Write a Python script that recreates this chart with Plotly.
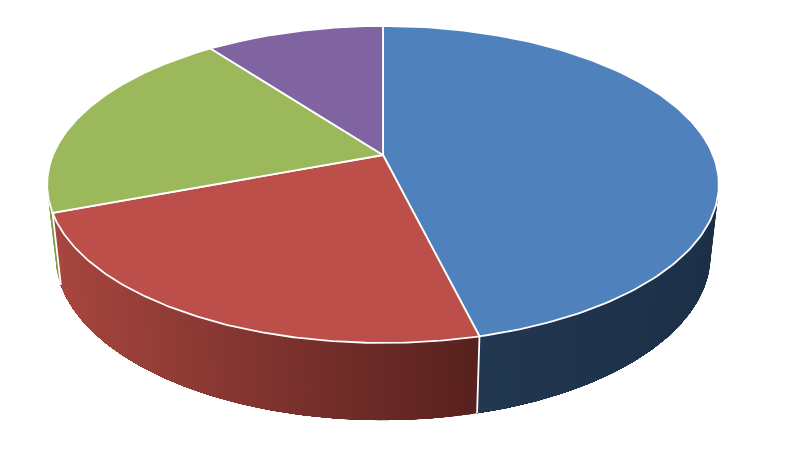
import numpy as np
import plotly.graph_objects as go

# Slice data (clockwise from 12 o'clock)
categories = ["A", "B", "C", "D"]
values = [46.15, 23.1, 20.5, 10.25]
top_colors = ["#4f81bd", "#bd4f4b", "#9bb85a", "#8064a2"]
# wall shading: colour at the start (clockwise) and the end of each slice's visible wall
wall_start = ["#1c3048", "#58211e", "#7f9a45", None]
wall_end = ["#223850", "#a8463f", "#7f9a45", None]

# Projection of the tilted disc onto the page
CX, CY = 383.0, 155.0
A, B, K = 330.0, 153.0, 0.186


def top(t):
    u, v = np.sin(t), np.cos(t)
    w = 1 + K * v
    return CX + A * u / w, CY - B * v / w


def bottom(t):
    x, y = top(t)
    return CX + 0.975 * (x - CX), y + 72 + (y - 213) * 0.04


def hex2rgb(h):
    return np.array([int(h[i:i + 2], 16) for i in (1, 3, 5)], float)


def mix(a, b, f):
    c = hex2rgb(a) * (1 - f) + hex2rgb(b) * f
    return "rgb(%d,%d,%d)" % tuple(c.round())


fig = go.Figure()
edges = np.radians(np.concatenate([[0], np.cumsum(values) / np.sum(values) * 360]))

# Visible side wall lies between the two silhouette angles
vis_lo, vis_hi = np.radians(100.7), np.radians(259.3)
seams = []
for i in range(len(values)):
    lo, hi = max(edges[i], vis_lo), min(edges[i + 1], vis_hi)
    if hi <= lo or wall_start[i] is None:
        continue
    n = max(2, int(np.degrees(hi - lo) / 1.0))
    ts = np.linspace(lo, hi, n + 1)
    x_lo, x_hi = top(lo)[0], top(hi)[0]
    for j in range(n):
        # each band runs on to the end of the slice, so later bands overpaint with no seams
        t = np.linspace(ts[j], hi, max(4, 3 * (n - j)))
        xt, yt = top(t)
        xb, yb = bottom(t[::-1])
        # the shading follows the page's horizontal position
        f = (x_lo - top(ts[j])[0]) / (x_lo - x_hi)
        col = mix(wall_start[i], wall_end[i], float(np.clip(f, 0, 1)))
        fig.add_trace(go.Scatter(x=list(xt) + list(xb), y=list(yt) + list(yb),
                                 mode="lines", fill="toself", fillcolor=col,
                                 line=dict(width=0), hoverinfo="skip"))
    if hi < vis_hi:
        seams.append(hi)

# Seams between the wall segments
for s in seams:
    xt, yt = top(s)
    xb, yb = bottom(s)
    fig.add_trace(go.Scatter(x=[xt, xb], y=[yt, yb], mode="lines",
                             line=dict(color="white", width=1.8), hoverinfo="skip"))
# Top slices
for i in range(len(values)):
    t = np.linspace(edges[i], edges[i + 1], 160)
    x, y = top(t)
    fig.add_trace(go.Scatter(x=[CX] + list(x) + [CX], y=[CY] + list(y) + [CY],
                             mode="lines", fill="toself", fillcolor=top_colors[i],
                             line=dict(color="white", width=1.8), hoverinfo="skip"))

fig.update_layout(
    width=789, height=450, showlegend=False,
    margin=dict(l=0, r=0, t=0, b=0),
    paper_bgcolor="white", plot_bgcolor="white",
    xaxis=dict(range=[0, 789], visible=False, fixedrange=True),
    yaxis=dict(range=[450, 0], visible=False, fixedrange=True),
)
fig.write_html("out.html", config=dict(displayModeBar=False),
               post_script="document.body.style.margin='0';document.body.style.overflow='hidden';")
